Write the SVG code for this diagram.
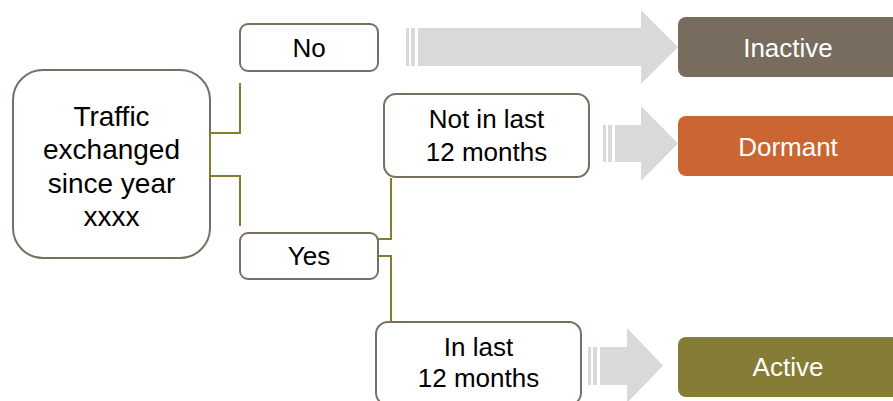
<svg xmlns="http://www.w3.org/2000/svg" width="893" height="401" viewBox="0 0 893 401">
<style>
.box{fill:#fff;stroke:#7A6F62;stroke-width:2}
.t{font-family:"Liberation Sans",Arial,sans-serif;font-size:26px;fill:#000;text-anchor:middle}
.tw{font-family:"Liberation Sans",Arial,sans-serif;font-size:26px;fill:#fff;text-anchor:middle}
.conn{fill:none;stroke:#857C2E;stroke-width:2}
.arr{fill:#D9D9D9}
</style>
<rect width="893" height="401" fill="#fff"/>
<g id="arrows">
  <rect class="arr" x="406" y="28" width="3" height="38"/>
  <rect class="arr" x="411" y="28" width="4" height="38"/>
  <polygon class="arr" points="418,28 641,28 641,10 678,47 641,84 641,66 418,66"/>
  <rect class="arr" x="603" y="125" width="3" height="37"/>
  <rect class="arr" x="608" y="125" width="4" height="37"/>
  <polygon class="arr" points="615,125 641,125 641,106 678,143.5 641,181 641,162 615,162"/>
  <rect class="arr" x="588" y="347" width="3" height="38"/>
  <rect class="arr" x="593" y="347" width="4" height="38"/>
  <polygon class="arr" points="600,347 627,347 627,328 663,365.5 627,403 627,385 600,385"/>
</g>
<g id="main">
  <rect class="box" x="13" y="70" width="197" height="188" rx="30"/>
  <text class="t" style="font-size:28px" x="111.5" y="126">Traffic</text>
  <text class="t" style="font-size:28px" x="111.5" y="159">exchanged</text>
  <text class="t" style="font-size:28px" x="111.5" y="193">since year</text>
  <text class="t" style="font-size:28px" x="111.5" y="226">xxxx</text>
</g>
<g id="no">
  <rect class="box" x="240" y="24" width="138" height="47" rx="8"/>
  <text class="t" x="309" y="57">No</text>
</g>
<g id="yes">
  <rect class="box" x="240" y="233" width="138" height="46" rx="8"/>
  <text class="t" x="309" y="265">Yes</text>
</g>
<g id="notlast">
  <rect class="box" x="384" y="94" width="205" height="83" rx="12"/>
  <text class="t" x="486.5" y="128">Not in last</text>
  <text class="t" x="486.5" y="161">12 months</text>
</g>
<g id="inlast">
  <rect class="box" x="376" y="322" width="205" height="83" rx="12"/>
  <text class="t" x="478.5" y="356">In last</text>
  <text class="t" x="478.5" y="387">12 months</text>
</g>
<g id="inactive">
  <rect x="678" y="17" width="222" height="60" rx="8" fill="#776C5E"/>
  <text class="tw" x="788" y="57">Inactive</text>
</g>
<g id="dormant">
  <rect x="678" y="116" width="222" height="60" rx="8" fill="#CB6633"/>
  <text class="tw" x="788" y="156">Dormant</text>
</g>
<g id="active">
  <rect x="678" y="337" width="222" height="60" rx="8" fill="#857C36"/>
  <text class="tw" x="788" y="376">Active</text>
</g>
<g id="connectors">
  <path class="conn" d="M210,133 H240 V83"/>
  <path class="conn" d="M210,176 H240 V226"/>
  <path class="conn" d="M210,133 V176"/>
  <path class="conn" d="M391,178 V239 H378"/>
  <path class="conn" d="M378,256 H391 V322"/>
</g>
</svg>
